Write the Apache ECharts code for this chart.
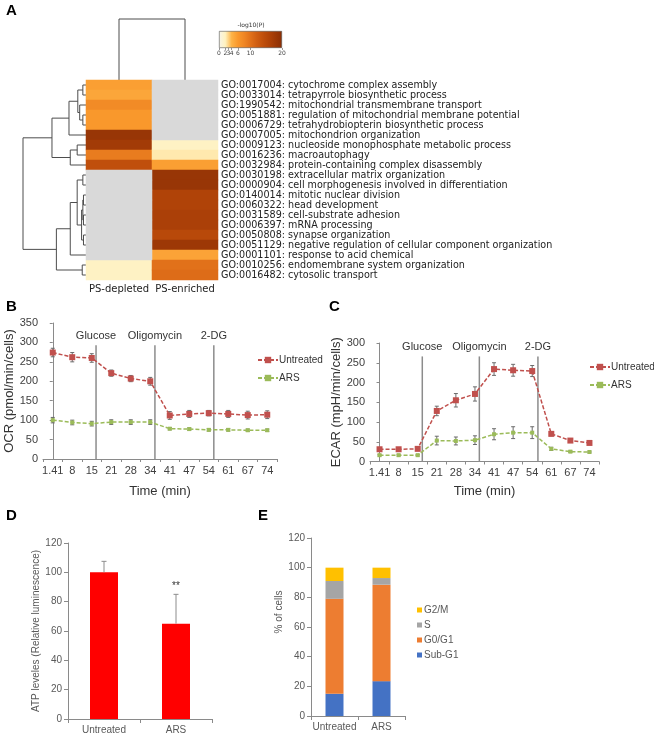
<!DOCTYPE html>
<html>
<head>
<meta charset="utf-8">
<script src="https://cdn.jsdelivr.net/npm/echarts@6/dist/echarts.min.js"></script>
<style>
  html, body { margin: 0; padding: 0; background: #fff; }
  #chart { width: 654px; height: 736px; }
</style>
</head>
<body>
<div id="chart"></div>
<script>
// ---- panel A: GO enrichment heatmap ----
const goTerms = [
  'GO:0017004: cytochrome complex assembly',
  'GO:0033014: tetrapyrrole biosynthetic process',
  'GO:1990542: mitochondrial transmembrane transport',
  'GO:0051881: regulation of mitochondrial membrane potential',
  'GO:0006729: tetrahydrobiopterin biosynthetic process',
  'GO:0007005: mitochondrion organization',
  'GO:0009123: nucleoside monophosphate metabolic process',
  'GO:0016236: macroautophagy',
  'GO:0032984: protein-containing complex disassembly',
  'GO:0030198: extracellular matrix organization',
  'GO:0000904: cell morphogenesis involved in differentiation',
  'GO:0140014: mitotic nuclear division',
  'GO:0060322: head development',
  'GO:0031589: cell-substrate adhesion',
  'GO:0006397: mRNA processing',
  'GO:0050808: synapse organization',
  'GO:0051129: negative regulation of cellular component organization',
  'GO:0001101: response to acid chemical',
  'GO:0010256: endomembrane system organization',
  'GO:0016482: cytosolic transport'
]
const heatColumns = ['PS-depleted', 'PS-enriched']
// -log10(P), null = not enriched (grey)
const psDepleted = [5.5, 5, 7.5, 6, 6, 18.5, 17.5, 9, 14, null, null, null, null, null, null, null, null, null, 1.8, 1.8]
const psEnriched = [null, null, null, null, null, null, 1.8, 2.3, 5.5, 18.5, 18.5, 16, 16, 16.5, 16.5, 15, 18, 5.2, 10, 10.5]
const colorbarTicks = [0, 2, 3, 4, 6, 10, 20]
const heatColors = ['#f7f4e8', '#fff2c0', '#fdb347', '#f9982c', '#f08624', '#e1711a',
  '#d05e12', '#c04f0c', '#b04308', '#9d3806', '#8a2e04']

// dendrograms: [childA, childB, height], new nodes numbered after the leaves
const rowLinkage = [
  [0, 1, 0.05], [3, 4, 0.05], [2, 21, 0.10], [20, 22, 0.13], [23, 5, 0.27],
  [6, 7, 0.14], [25, 8, 0.25], [24, 26, 0.54],
  [9, 10, 0.05], [11, 12, 0.04], [13, 14, 0.04], [15, 16, 0.04], [29, 30, 0.05],
  [32, 31, 0.07], [28, 33, 0.14], [34, 17, 0.25], [18, 19, 0.06], [35, 36, 0.47],
  [27, 37, 1.0]
]
const colLinkage = [[0, 1, 1.0]]

// ---- panels B, C: Seahorse ----
const timeLabels = ['1.41', '8', '15', '21', '28', '34', '41', '47', '54', '61', '67', '74']
const eventNames = ['Glucose', 'Oligomycin', '2-DG']
const ocrEventPos = [2.22, 5.24, 8.26]
const ecarEventPos = [2.24, 5.23, 8.3]
const ocrUntreated = [274, 262, 260, 221, 207, 200, 112, 116, 118, 116, 113, 114]
const ocrUntreatedErr = [11, 12, 11, 8, 8, 10, 10, 9, 7, 9, 10, 10]
const ocrArs = [100, 94, 91, 95, 95, 95, 78, 77, 75, 75, 74, 74]
const ocrArsErr = [7, 6, 6, 6, 6, 6, 3, 3, 3, 3, 3, 3]
const ecarUntreated = [31, 31, 32, 128, 155, 171, 234, 231, 229, 70, 53, 47]
const ecarUntreatedErr = [3, 3, 3, 12, 17, 18, 16, 15, 14, 5, 3, 3]
const ecarArs = [16, 16, 16, 53, 52, 54, 69, 73, 73, 32, 25, 24]
const ecarArsErr = [2, 2, 2, 11, 10, 11, 14, 15, 15, 4, 2, 2]

// ---- panel D: ATP ----
const groups = ['Untreated', 'ARS']
const atpValues = [100, 65]
const atpErr = [7.5, 20]
const atpSig = ['', '**']

// ---- panel E: cell cycle ----
const phaseNames = ['Sub-G1', 'G0/G1', 'S', 'G2/M']
const subG1 = [15, 23.5]
const g0g1 = [64, 65]
const sPhase = [12, 4.5]
const g2m = [9, 7]
const phaseColors = ['#4472c4', '#ed7d31', '#a5a5a5', '#ffc000']

const SANS = 'Liberation Sans, Arial, sans-serif'
const DEJAVU = 'DejaVu Sans, sans-serif'
const AXIS_GREY = '#8a8a8a'

function buildLinks(linkage, nLeaves) {
  const pos = [], hgt = []
  for (let i = 0; i < nLeaves; i++) { pos[i] = i; hgt[i] = 0 }
  return linkage.map(([a, b, h], k) => {
    pos[nLeaves + k] = (pos[a] + pos[b]) / 2
    hgt[nLeaves + k] = h
    return [pos[a], pos[b], hgt[a], hgt[b], h]
  })
}

const dendroStyle = { stroke: '#4d4d4d', lineWidth: 1, fill: null }

function rowDendroItem(params, api) {
  const [pa, pb, ha, hb, hm] = [0, 1, 2, 3, 4].map(i => api.value(i))
  return {
    type: 'polyline',
    shape: { points: [api.coord([ha, pa]), api.coord([hm, pa]), api.coord([hm, pb]), api.coord([hb, pb])] },
    style: dendroStyle
  }
}

function colDendroItem(params, api) {
  const [pa, pb, ha, hb, hm] = [0, 1, 2, 3, 4].map(i => api.value(i))
  return {
    type: 'polyline',
    shape: { points: [api.coord([pa, ha]), api.coord([pa, hm]), api.coord([pb, hm]), api.coord([pb, hb])] },
    style: dendroStyle
  }
}

function errorBarItem(params, api) {
  const x = api.value(0), v = api.value(1), e = api.value(2)
  const top = api.coord([x, v + e])
  const bot = api.coord([x, v - e])
  const w = 2
  const st = { stroke: '#6b6b6b', lineWidth: 1 }
  return {
    type: 'group',
    children: [
      { type: 'line', shape: { x1: top[0], y1: top[1], x2: bot[0], y2: bot[1] }, style: st },
      { type: 'line', shape: { x1: top[0] - w, y1: top[1], x2: top[0] + w, y2: top[1] }, style: st },
      { type: 'line', shape: { x1: bot[0] - w, y1: bot[1], x2: bot[0] + w, y2: bot[1] }, style: st }
    ]
  }
}

function upperErrorItem(params, api) {
  const x = api.value(0), v = api.value(1), e = api.value(2)
  const base = api.coord([x, v])
  const top = api.coord([x, v + e])
  const st = { stroke: '#8c8c8c', lineWidth: 1 }
  return {
    type: 'group',
    children: [
      { type: 'line', shape: { x1: base[0], y1: base[1], x2: top[0], y2: top[1] }, style: st },
      { type: 'line', shape: { x1: top[0] - 2.5, y1: top[1], x2: top[0] + 2.5, y2: top[1] }, style: st },
      {
        type: 'text',
        style: {
          x: top[0], y: top[1] - 3, text: atpSig[params.dataIndex],
          font: '10px ' + SANS, fill: '#333',
          align: 'center', verticalAlign: 'bottom', textAlign: 'center', textVerticalAlign: 'bottom'
        }
      }
    ]
  }
}

function eventLineItem(names) {
  return (params, api) => {
    const p = api.value(0), topV = api.value(1)
    const a = api.coord([p, 0])
    const b = api.coord([p, topV])
    return {
      type: 'group',
      children: [
        { type: 'line', shape: { x1: a[0], y1: a[1], x2: b[0], y2: b[1] }, style: { stroke: '#8c8c8c', lineWidth: 1.5 } },
        {
          type: 'text',
          style: {
            x: b[0], y: b[1] - 4, text: names[params.dataIndex],
            font: '11px ' + SANS, fill: '#333',
            align: 'center', verticalAlign: 'bottom', textAlign: 'center', textVerticalAlign: 'bottom'
          }
        }
      ]
    }
  }
}

const heatData = [], naData = []
;[psDepleted, psEnriched].forEach((col, ci) => {
  col.forEach((v, ri) => {
    if (v == null) naData.push([ci, ri, 0])
    else heatData.push([ci, ri, v])
  })
})

const colorbarGradient = new echarts.graphic.LinearGradient(0, 0, 1, 0,
  heatColors.map((c, i) => ({ offset: i / (heatColors.length - 1), color: c })))

function seahorseAxes(gridIndex, yMax, yName, yNameGap, xNameGap) {
  const label = { fontSize: 11, fontFamily: SANS, color: '#404040' }
  const x = {
    type: 'category', gridIndex, data: timeLabels,
    axisLine: { lineStyle: { color: AXIS_GREY } },
    axisTick: { show: true, length: 3, lineStyle: { color: AXIS_GREY } },
    axisLabel: Object.assign({ margin: 6, interval: 0 }, label),
    name: 'Time (min)', nameLocation: 'middle', nameGap: xNameGap,
    nameTextStyle: { fontSize: 13, fontFamily: SANS, color: '#333' }
  }
  const xHidden = { type: 'value', gridIndex, min: -0.5, max: 11.5, show: false }
  const y = {
    type: 'value', gridIndex, min: 0, max: yMax, interval: 50,
    axisLine: { show: true, lineStyle: { color: AXIS_GREY } },
    axisTick: { show: true, length: 3, lineStyle: { color: AXIS_GREY } },
    splitLine: { show: false },
    axisLabel: Object.assign({ margin: 5 }, label),
    name: yName, nameLocation: 'middle', nameGap: yNameGap,
    nameTextStyle: { fontSize: 13, fontFamily: SANS, color: '#333' }
  }
  return { x, xHidden, y }
}

function seahorseSeries(xIdx, xHiddenIdx, yIdx, unt, untErr, ars, arsErr, eventPos, eventTop) {
  const lineBase = (name, data, color, size) => ({
    name, type: 'line', xAxisIndex: xIdx, yAxisIndex: yIdx, data,
    symbol: 'rect', symbolSize: size, z: 3,
    lineStyle: { color, width: 1.5, type: [4, 2] },
    itemStyle: { color }
  })
  const errBase = (data, errs) => ({
    type: 'custom', xAxisIndex: xIdx, yAxisIndex: yIdx, z: 2, silent: true,
    renderItem: errorBarItem, encode: { x: 0, y: 1 },
    data: data.map((v, i) => [i, v, errs[i]])
  })
  return [
    lineBase('Untreated', unt, '#c0504d', 6),
    lineBase('ARS', ars, '#9bbb59', 4),
    errBase(unt, untErr),
    errBase(ars, arsErr),
    {
      type: 'custom', xAxisIndex: xHiddenIdx, yAxisIndex: yIdx, z: 1, silent: true,
      renderItem: eventLineItem(eventNames), encode: { x: 0, y: 1 },
      data: eventPos.map((p, i) => [p, eventTop[i]])
    }
  ]
}

const B = seahorseAxes(4, 350, 'OCR (pmol/min/cells)', 24, 26)
const C = seahorseAxes(5, 300, 'ECAR (mpH/min/cells)', 21, 23)

const smallLabel = { fontSize: 10, fontFamily: SANS, color: '#595959' }
function barAxes(gridIndex, yName, nameGap, namePadding) {
  return {
    x: {
      type: 'category', gridIndex, data: groups,
      axisLine: { lineStyle: { color: AXIS_GREY } },
      axisTick: { show: true, length: 4, lineStyle: { color: AXIS_GREY } },
      axisLabel: Object.assign({ margin: 6, interval: 0 }, smallLabel)
    },
    y: {
      type: 'value', gridIndex, min: 0, max: 120, interval: 20,
      axisLine: { show: true, lineStyle: { color: AXIS_GREY } },
      axisTick: { show: true, length: 4, lineStyle: { color: AXIS_GREY } },
      splitLine: { show: false },
      axisLabel: Object.assign({ margin: 6 }, smallLabel),
      name: yName, nameLocation: 'middle', nameGap,
      nameTextStyle: { fontSize: 10, fontFamily: SANS, color: '#595959', padding: namePadding }
    }
  }
}
const D = barAxes(6, 'ATP leveles (Relative luminescence)', 21, 0)
const E = barAxes(7, '% of cells', 19, [0, 0, 0, 30])

const phaseData = [subG1, g0g1, sPhase, g2m]

const seahorseLegend = {
  data: ['Untreated', 'ARS'], orient: 'vertical', padding: 0,
  itemWidth: 20, itemHeight: 8, itemGap: 8,
  textStyle: { fontSize: 10, fontFamily: SANS, color: '#333', padding: [0, 0, 0, -4] }
}

const option = {
  animation: false,
  backgroundColor: '#fff',
  title: [
    { text: 'A', left: 6, top: 3 },
    { text: 'B', left: 6, top: 299 },
    { text: 'C', left: 329, top: 299 },
    { text: 'D', left: 6, top: 508 },
    { text: 'E', left: 258, top: 508 },
    { text: '-log10(P)', left: 251, top: 22, textAlign: 'center',
      textStyle: { fontSize: 6, fontWeight: 'normal', color: '#333', fontFamily: DEJAVU } }
  ].map(t => Object.assign({ padding: 0 }, t, {
    textStyle: Object.assign({ fontSize: 15, fontWeight: 'bold', fontFamily: SANS, color: '#000' }, t.textStyle)
  })),
  grid: [
    { left: 23, top: 80, width: 63, height: 200 },   // row dendrogram
    { left: 86, top: 19, width: 132, height: 61 },   // column dendrogram
    { left: 86, top: 80, width: 132, height: 200 },  // heatmap
    { left: 219, top: 31, width: 63, height: 17 },   // colour bar
    { left: 43, top: 323, width: 234, height: 136 }, // B
    { left: 370, top: 343, width: 229, height: 118.5 }, // C
    { left: 68, top: 543, width: 144, height: 176 }, // D
    { left: 311, top: 538, width: 94, height: 178 }  // E
  ],
  xAxis: [
    { type: 'value', gridIndex: 0, min: 0, max: 1, inverse: true, show: false },
    { type: 'value', gridIndex: 1, min: -0.5, max: 1.5, show: false },
    {
      type: 'category', gridIndex: 2, data: heatColumns, position: 'bottom',
      axisLine: { show: false }, axisTick: { show: false },
      axisLabel: { fontSize: 10, fontFamily: DEJAVU, color: '#222', margin: 4, interval: 0 }
    },
    {
      type: 'value', gridIndex: 3, min: 0, max: 20,
      axisLine: { show: false }, splitLine: { show: false },
      axisTick: { show: true, length: 2, customValues: colorbarTicks, lineStyle: { color: '#555', width: 0.6 } },
      axisLabel: { customValues: colorbarTicks, fontSize: 6, fontFamily: DEJAVU, color: '#444', margin: 2 }
    },
    B.x, B.xHidden, C.x, C.xHidden, D.x, E.x
  ],
  yAxis: [
    { type: 'value', gridIndex: 0, min: -0.5, max: 19.5, inverse: true, show: false },
    { type: 'value', gridIndex: 1, min: 0, max: 1, show: false },
    {
      type: 'category', gridIndex: 2, data: goTerms, inverse: true, position: 'right',
      axisLine: { show: false }, axisTick: { show: false },
      axisLabel: { fontSize: 9.6, fontFamily: DEJAVU, color: '#222', margin: 3, interval: 0 }
    },
    { type: 'category', gridIndex: 3, data: ['-log10(P)'], show: false },
    B.y, C.y, D.y, E.y
  ],
  visualMap: {
    type: 'continuous', show: false, min: 0, max: 20, seriesIndex: 2,
    inRange: { color: heatColors }
  },
  legend: [
    Object.assign({ left: 257, top: 355 }, seahorseLegend),
    Object.assign({ left: 589, top: 362 }, seahorseLegend),
    {
      data: ['G2/M', 'S', 'G0/G1', 'Sub-G1'], orient: 'vertical', left: 417, top: 604, padding: 0,
      icon: 'rect', itemWidth: 5, itemHeight: 5, itemGap: 3,
      textStyle: { fontSize: 10, fontFamily: SANS, color: '#595959', lineHeight: 12, padding: [0, 0, 0, -3] }
    }
  ],
  series: [
    {
      type: 'custom', xAxisIndex: 0, yAxisIndex: 0, silent: true, clip: false,
      renderItem: rowDendroItem, data: buildLinks(rowLinkage, goTerms.length)
    },
    {
      type: 'custom', xAxisIndex: 1, yAxisIndex: 1, silent: true, clip: false,
      renderItem: colDendroItem, data: buildLinks(colLinkage, heatColumns.length)
    },
    {
      type: 'heatmap', xAxisIndex: 2, yAxisIndex: 2, data: heatData, silent: true,
      emphasis: { disabled: true }
    },
    {
      type: 'heatmap', xAxisIndex: 2, yAxisIndex: 2, data: naData, silent: true,
      itemStyle: { color: '#d9d9d9' }, emphasis: { disabled: true }
    },
    {
      type: 'bar', xAxisIndex: 3, yAxisIndex: 3, data: [20], barWidth: '100%', silent: true,
      itemStyle: { color: colorbarGradient, borderColor: '#555', borderWidth: 0.6 }
    },
    ...seahorseSeries(4, 5, 4, ocrUntreated, ocrUntreatedErr, ocrArs, ocrArsErr, ocrEventPos, [293, 293, 293]),
    ...seahorseSeries(6, 7, 5, ecarUntreated, ecarUntreatedErr, ecarArs, ecarArsErr, ecarEventPos, [266, 266, 266]),
    {
      type: 'bar', xAxisIndex: 8, yAxisIndex: 6, data: atpValues, barWidth: 28,
      itemStyle: { color: '#ff0000' }, silent: true
    },
    {
      type: 'custom', xAxisIndex: 8, yAxisIndex: 6, silent: true, z: 3,
      renderItem: upperErrorItem, encode: { x: 0, y: 1 },
      data: atpValues.map((v, i) => [i, v, atpErr[i]])
    },
    ...phaseNames.map((name, k) => ({
      name, type: 'bar', stack: 'cycle', xAxisIndex: 9, yAxisIndex: 7,
      data: phaseData[k], barWidth: 18, silent: true,
      itemStyle: { color: phaseColors[k] }
    }))
  ]
}

const chart = echarts.init(document.getElementById('chart'))
chart.setOption(option)
</script>
</body>
</html>
